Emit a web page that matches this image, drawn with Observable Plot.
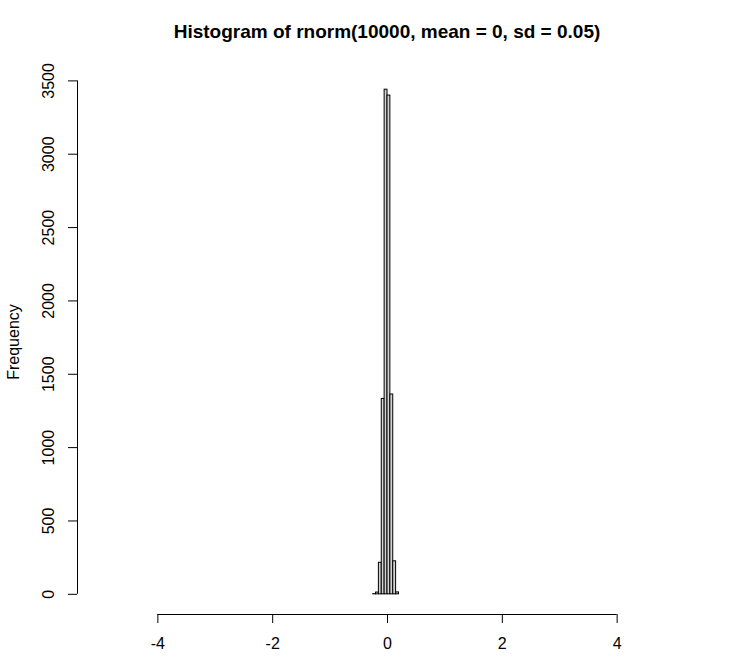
<!DOCTYPE html>
<html><head><meta charset="utf-8">
<script src="https://cdn.jsdelivr.net/npm/d3@7"></script>
<script src="https://cdn.jsdelivr.net/npm/@observablehq/plot@0.6"></script>
<style>
body{margin:0;background:#fff;font-family:"Liberation Sans",Arial,sans-serif;}
#title{box-sizing:border-box;width:739px;height:60px;padding-left:35px;padding-top:21px;text-align:center;font-weight:bold;font-size:19px;line-height:22px;color:#000;}
</style></head><body>
<div id="title">Histogram of rnorm(10000, mean = 0, sd = 0.05)</div>
<div id="chart"></div>
<script>
const breaks = [-0.25, -0.2, -0.15, -0.1, -0.05, 0, 0.05, 0.1, 0.15, 0.2];
const counts = [1, 12, 215, 1332, 3440, 3400, 1362, 225, 13];
const xTicks = [-4, -2, 0, 2, 4];
const yTicks = [0, 500, 1000, 1500, 2000, 2500, 3000, 3500];
const xLimits = [-5, 5];
const yLabel = "Frequency";

const rows = counts.map((c, i) => ({x1: breaks[i], x2: breaks[i + 1], count: c}));
const xSpan = xLimits[1] - xLimits[0];
const xDomain = [xLimits[0] - 0.04 * xSpan, xLimits[1] + 0.04 * xSpan];
const maxCount = d3.max(counts);
const yDomain = [-0.04 * maxCount, 1.04 * maxCount];

const chart = Plot.plot({
  width: 739,
  height: 606,
  marginLeft: 77,
  marginRight: 42,
  marginTop: 9,
  marginBottom: 52,
  style: {fontFamily: "Liberation Sans, Arial, sans-serif", fontSize: "16px", color: "#000", background: "#fff"},
  x: {domain: xDomain},
  y: {domain: yDomain},
  marks: [
    Plot.rectY(rows, {x1: "x1", x2: "x2", y: "count", fill: "#d3d3d3", stroke: "#000", strokeWidth: 1}),
    Plot.ruleY([yDomain[0]], {x1: xTicks[0], x2: xTicks[xTicks.length - 1], stroke: "#000", strokeWidth: 1}),
    Plot.ruleX([xDomain[0]], {y1: yTicks[0], y2: yTicks[yTicks.length - 1], stroke: "#000", strokeWidth: 1}),
    Plot.axisX({ticks: xTicks, tickSize: 9, tickPadding: 14, tickFormat: d => String(d), label: null, anchor: "bottom"}),
    Plot.axisY({ticks: yTicks, tickSize: 9, tickFormat: () => "", label: null, anchor: "left"}),
    Plot.text(yTicks, {y: d => d, frameAnchor: "left", rotate: -90, dx: -29, text: d => String(d), textAnchor: "middle", lineAnchor: "middle", fontSize: 16}),
    Plot.text([yLabel], {frameAnchor: "left", rotate: -90, dx: -64, text: d => d, textAnchor: "middle", lineAnchor: "middle", fontSize: 16})
  ]
});
document.getElementById("chart").appendChild(chart);
</script>
</body></html>
